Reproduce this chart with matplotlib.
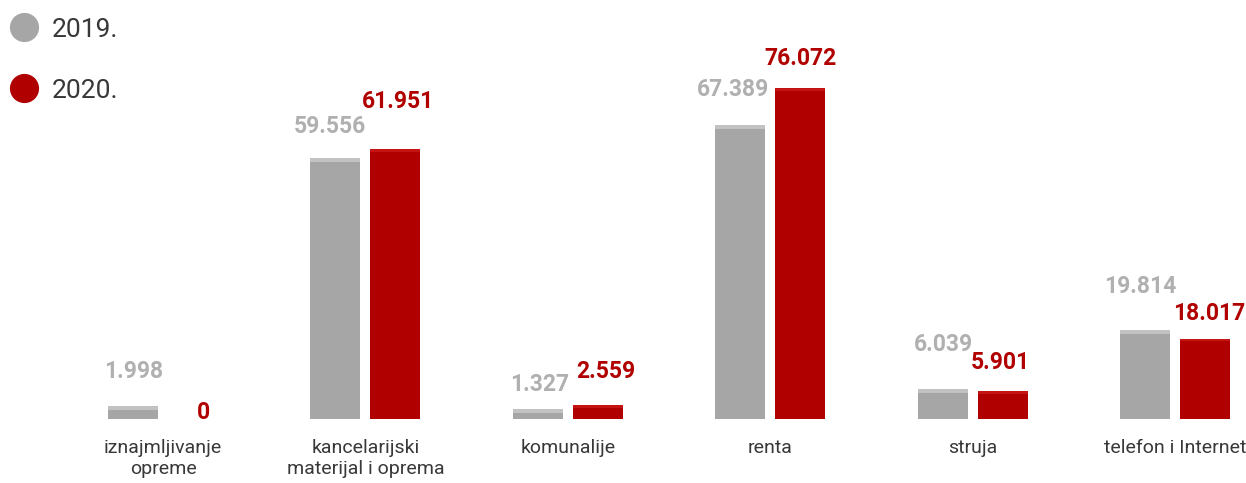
import matplotlib
matplotlib.use("Agg")
import matplotlib.pyplot as plt
from matplotlib.lines import Line2D
import numpy as np

categories = ["iznajmljivanje\nopreme", "kancelarijski\nmaterijal i oprema", "komunalije",
              "renta", "struja", "telefon i Internet"]
values_2019 = [1.998, 59.556, 1.327, 67.389, 6.039, 19.814]
values_2020 = [0.0, 61.951, 2.559, 76.072, 5.901, 18.017]
labels_2019 = ["1.998", "59.556", "1.327", "67.389", "6.039", "19.814"]
labels_2020 = ["0", "61.951", "2.559", "76.072", "5.901", "18.017"]
series_names = ["2019.", "2020."]

# styles
GRAY = "#a6a6a6"
GRAY_TOP = "#c2c2c2"
GRAY_TXT = "#b0b0b0"
RED = "#b00000"
RED_TOP = "#c41414"
DARK = "#383838"
# label offsets in pixels (dx, dy above bar top, to label centre)
off_2019 = [(1, 41), (-6, 38), (2, 31), (-7, 42), (1, 51), (-5, 50)]
off_2020 = [(10, 9), (3, 53), (8, 39), (0, 35), (-2, 34), (4, 30)]

plt.rcParams['font.family'] = ['Roboto', 'DejaVu Sans']

W, H = 1246, 483
fig = plt.figure(figsize=(W / 100, H / 100), dpi=100)
ax = fig.add_axes([0, 0, 1, 1])

spacing = 202.4      # px between groups
c0 = 163.0           # px centre of first group
pxu = 4.31           # px per unit
base = 64.0          # px from bottom
ax.set_xlim(-c0 / spacing, (W - c0) / spacing)
ax.set_ylim(-base / pxu, (H - base) / pxu)
ax.axis("off")

x = np.arange(len(categories))
bw = 50 / spacing
off = 30 / spacing
strip = 4 / pxu

ax.bar(x - off, values_2019, width=bw, color=GRAY, linewidth=0, zorder=2)
ax.bar(x + off, values_2020, width=bw, color=RED, linewidth=0, zorder=2)
# light top faces
v19 = np.array(values_2019)
v20 = np.array(values_2020)
m19 = v19 > 0
m20 = v20 > 0
ax.bar((x - off)[m19], strip, bottom=v19[m19], width=bw, color=GRAY_TOP, linewidth=0, zorder=3)
ax.bar((x + off)[m20], strip * 0.7, bottom=v20[m20], width=bw, color=RED_TOP, linewidth=0, zorder=3)

for i in range(len(categories)):
    dx, dy = off_2019[i]
    ax.annotate(labels_2019[i], xy=(x[i] - off, values_2019[i]), xytext=(dx, dy),
                textcoords="offset pixels", ha="center", va="center_baseline",
                fontsize=16.5, fontweight="bold", color=GRAY_TXT)
    dx, dy = off_2020[i]
    ax.annotate(labels_2020[i], xy=(x[i] + off, values_2020[i]), xytext=(dx, dy),
                textcoords="offset pixels", ha="center", va="center_baseline",
                fontsize=16.5, fontweight="bold", color=RED)
    ax.annotate(categories[i], xy=(x[i], 0), xytext=(0, -20),
                textcoords="offset pixels", ha="center", va="top",
                fontsize=14, color=DARK, linespacing=1.2)

handles = [Line2D([], [], marker="o", linestyle="", markersize=20, color=GRAY),
           Line2D([], [], marker="o", linestyle="", markersize=20, color=RED)]
leg = fig.legend(handles, series_names, loc="upper left", bbox_to_anchor=(-7 / W, 1.0),
                 frameon=False, fontsize=19, labelspacing=1.4, handletextpad=0.57,
                 borderpad=0.25, borderaxespad=0.42, handlelength=1.0, labelcolor=DARK)

fig.savefig("out.png", dpi=100)
